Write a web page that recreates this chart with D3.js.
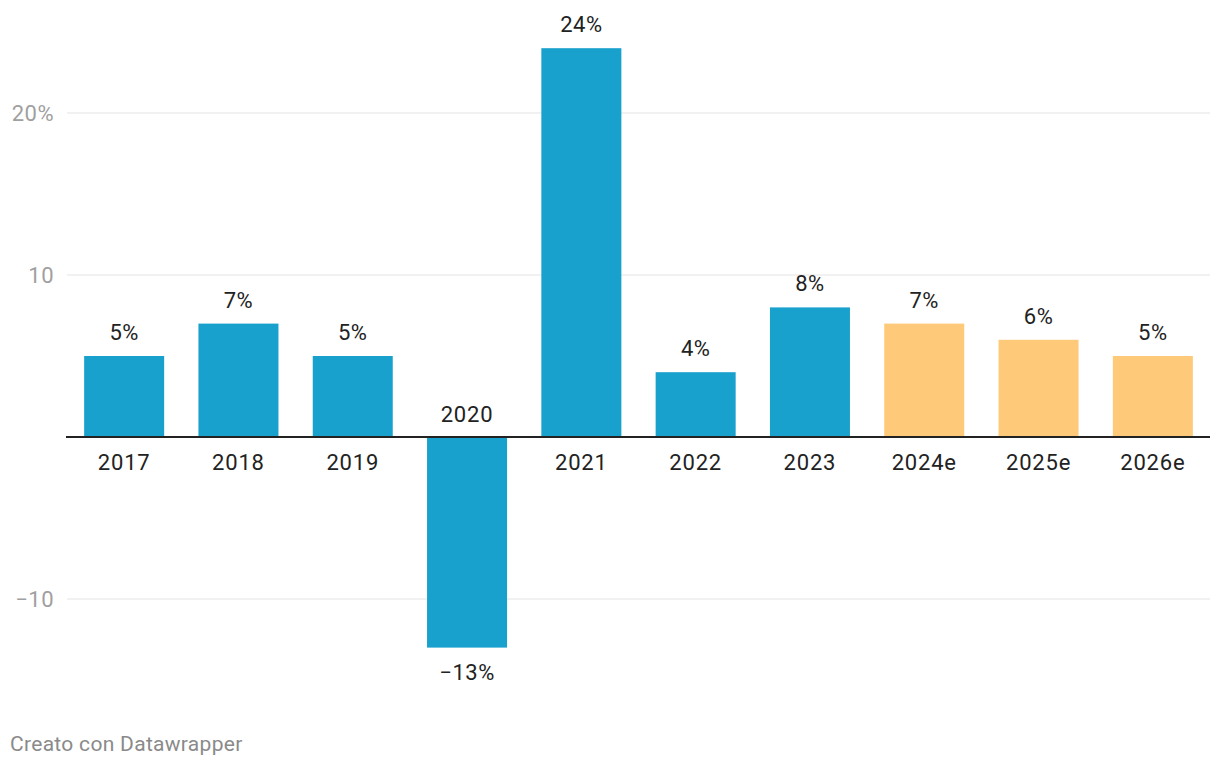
<!DOCTYPE html>
<html>
<head>
<meta charset="utf-8">
<script src="https://cdn.jsdelivr.net/npm/d3@7"></script>
<style>
  html, body { margin: 0; padding: 0; background: #fff; }
  svg { display: block; font-family: Roboto, "Noto Sans", sans-serif; }
</style>
</head>
<body>
<svg id="chart" width="1220" height="768"></svg>
<script>
const categories = ["2017", "2018", "2019", "2020", "2021", "2022", "2023", "2024e", "2025e", "2026e"];
const values = [5, 7, 5, -13, 24, 4, 8, 7, 6, 5];
const estimated = [false, false, false, false, false, false, false, true, true, true];
const yTicks = [-10, 10, 20];
const yTickLabels = ["\u221210", "10", "20%"];

const svg = d3.select("#chart");
const x = d3.scaleBand().domain(categories).range([67, 1210]).paddingInner(0.3).paddingOuter(0.15);
const y = d3.scaleLinear().domain([0, 20]).range([437, 113]);

// gridlines
svg.append("g").selectAll("line").data(yTicks).join("line")
  .attr("x1", 67).attr("x2", 1210)
  .attr("y1", d => y(d)).attr("y2", d => y(d))
  .attr("stroke", "#e3e3e3").attr("stroke-width", 1);

svg.append("g").selectAll("text").data(yTicks).join("text")
  .attr("x", 54).attr("y", d => y(d) + 8)
  .attr("text-anchor", "end")
  .attr("font-size", 22).attr("letter-spacing", 0.5).attr("fill", "#a0a0a0")
  .text((d, i) => yTickLabels[i]);

const data = categories.map((c, i) => ({ c, v: values[i], e: estimated[i] }));

svg.append("g").selectAll("rect").data(data).join("rect")
  .attr("x", d => x(d.c)).attr("width", x.bandwidth())
  .attr("y", d => y(Math.max(0, d.v)))
  .attr("height", d => Math.abs(y(d.v) - y(0)))
  .attr("fill", d => d.e ? "#fec978" : "#18a1cd");

// baseline
svg.append("line").attr("x1", 66).attr("x2", 1210)
  .attr("y1", y(0)).attr("y2", y(0))
  .attr("stroke", "#222").attr("stroke-width", 2);

// value labels
svg.append("g").selectAll("text").data(data).join("text")
  .attr("x", d => x(d.c) + x.bandwidth() / 2)
  .attr("y", d => d.v >= 0 ? y(d.v) - 16 : y(d.v) + 32)
  .attr("text-anchor", "middle").attr("font-size", 22).attr("letter-spacing", 0.5).attr("fill", "#222")
  .text(d => (d.v < 0 ? "\u2212" + Math.abs(d.v) : d.v) + "%");

// category labels
svg.append("g").selectAll("text").data(data).join("text")
  .attr("x", d => x(d.c) + x.bandwidth() / 2)
  .attr("y", d => d.v >= 0 ? y(0) + 33 : y(0) - 15)
  .attr("text-anchor", "middle").attr("font-size", 22).attr("letter-spacing", 0.8).attr("fill", "#222")
  .text(d => d.c);

svg.append("text").attr("x", 10).attr("y", 751)
  .attr("font-size", 21).attr("letter-spacing", 0.3).attr("fill", "#8a8a8a")
  .text("Creato con Datawrapper");
</script>
</body>
</html>
